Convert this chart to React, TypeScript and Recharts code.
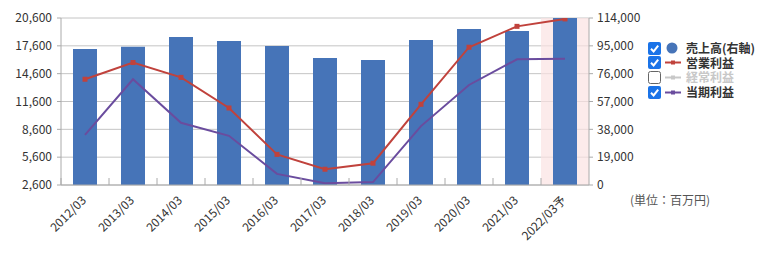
import React from "react";
import {
  ComposedChart,
  Bar,
  Line,
  XAxis,
  YAxis,
  CartesianGrid,
  ReferenceArea,
} from "recharts";

const years = [
  "2012/03", "2013/03", "2014/03", "2015/03", "2016/03", "2017/03",
  "2018/03", "2019/03", "2020/03", "2021/03", "2022/03予",
];
// 売上高 (右軸, 百万円)
const sales = [92800, 94400, 101000, 98300, 94900, 86700, 85300, 99000, 106500, 105100, 114000];
// 営業利益 (左軸)
const operatingProfit = [14000, 15800, 14200, 10900, 5900, 4300, 4950, 11300, 17450, 19700, 20500];
// 当期利益 (左軸)
const netIncome = [8000, 14000, 9300, 7900, 3800, 2780, 2920, 8950, 13380, 16150, 16200];

const leftTicks = [2600, 5600, 8600, 11600, 14600, 17600, 20600];
const rightTicks = [0, 19000, 38000, 57000, 76000, 95000, 114000];
const forecastYear = "2022/03予";

const legendItems = [
  { label: "売上高(右軸)", color: "#4674b8", kind: "circle", checked: true },
  { label: "営業利益", color: "#c0423c", kind: "line", checked: true },
  { label: "経常利益", color: "#c8c8c8", kind: "line", checked: false },
  { label: "当期利益", color: "#6a4c9e", kind: "line", checked: true },
];
const unitLabel = "(単位：百万円)";

const BLUE = "#4674b8";
const RED = "#c0423c";
const PURPLE = "#6a4c9e";
const GRID = "#c4c4c4";
const AXIS = "#aaaaaa";
const FONT = '"Noto Sans CJK JP", "Noto Sans", sans-serif';

const data = years.map((y, i) => ({
  year: y,
  sales: sales[i],
  op: operatingProfit[i],
  net: netIncome[i],
}));

const fmt = (v: number) => v.toLocaleString("en-US");

// x軸ラベル(-45°)と、カテゴリ境界の内向き目盛り
const XTick = (props: any) => {
  const { x, y, payload } = props;
  const half = payload?.offset ?? 24;
  return (
    <g>
      <line x1={x - half} x2={x - half} y1={y} y2={y - 7} stroke={AXIS} />
      <text
        x={x + 2}
        y={y + 16}
        transform={`rotate(-45, ${x + 2}, ${y + 16})`}
        textAnchor="end"
        fontSize={12}
        fill="#333"
        fontFamily={FONT}
      >
        {payload.value}
      </text>
    </g>
  );
};

const SquareDot = (props: any) => {
  const { cx, cy, index } = props;
  if (cx == null || cy == null) return <g key={index} />;
  return <rect key={index} x={cx - 2.5} y={cy - 2.5} width={5} height={5} fill={RED} />;
};

function CheckBox({ checked }: { checked: boolean }) {
  return (
    <svg width={13} height={13} style={{ display: "block" }}>
      {checked ? (
        <>
          <rect x={0} y={0} width={13} height={13} rx={2} fill="#1a73e8" />
          <path d="M3 6.8 L5.6 9.4 L10.2 3.6" stroke="#fff" strokeWidth={2} fill="none" />
        </>
      ) : (
        <rect x={0.5} y={0.5} width={12} height={12} rx={2} fill="#fff" stroke="#666" />
      )}
    </svg>
  );
}

function LegendIcon({ kind, color }: { kind: string; color: string }) {
  return (
    <svg width={18} height={13} style={{ display: "block" }}>
      {kind === "circle" ? (
        <circle cx={8} cy={6} r={5.5} fill={color} />
      ) : (
        <>
          <line x1={1} x2={17} y1={6.5} y2={6.5} stroke={color} strokeWidth={2} />
          <rect x={7} y={4.5} width={4} height={4} fill={color} />
        </>
      )}
    </svg>
  );
}

export default function App() {
  return (
    <div
      style={{
        position: "absolute",
        left: 0,
        top: 0,
        width: 763,
        height: 253,
        background: "#fff",
        fontFamily: FONT,
      }}
    >
      <ComposedChart
        width={763}
        height={253}
        data={data}
        margin={{ top: 18, right: 114, bottom: 0, left: 0 }}
      >
        <CartesianGrid yAxisId="left" stroke={GRID} vertical={false} />
        <ReferenceArea
          x1={forecastYear}
          x2={forecastYear}
          yAxisId="right"
          fill="#fbe3e3"
          fillOpacity={0.7}
          stroke="none"
        />
        <XAxis
          dataKey="year"
          height={68}
          interval={0}
          tickSize={0}
          tickMargin={0}
          tickLine={false}
          axisLine={{ stroke: AXIS }}
          tick={<XTick />}
        />
        <YAxis
          yAxisId="left"
          width={61}
          domain={[2600, 20600]}
          ticks={leftTicks}
          allowDataOverflow
          tickFormatter={fmt}
          tickSize={4}
          tickMargin={5}
          tickLine={{ stroke: AXIS }}
          axisLine={{ stroke: AXIS }}
          tick={{ fontSize: 12, fill: "#333", fontFamily: FONT }}
        />
        <YAxis
          yAxisId="right"
          orientation="right"
          width={60}
          domain={[0, 114000]}
          ticks={rightTicks}
          tickFormatter={fmt}
          tickSize={4}
          tickMargin={4}
          tickLine={{ stroke: AXIS }}
          axisLine={{ stroke: AXIS }}
          tick={{ fontSize: 12, fill: "#333", fontFamily: FONT }}
        />
        <Bar
          yAxisId="right"
          dataKey="sales"
          fill={BLUE}
          barSize={24}
          isAnimationActive={false}
        />
        <Line
          yAxisId="left"
          dataKey="op"
          type="linear"
          stroke={RED}
          strokeWidth={2}
          dot={<SquareDot />}
          activeDot={false}
          isAnimationActive={false}
        />
        <Line
          yAxisId="left"
          dataKey="net"
          type="linear"
          stroke={PURPLE}
          strokeWidth={2}
          dot={false}
          activeDot={false}
          isAnimationActive={false}
        />
      </ComposedChart>

      <div style={{ position: "absolute", left: 648, top: 41 }}>
        {legendItems.map((it) => (
          <div
            key={it.label}
            style={{ display: "flex", alignItems: "center", height: 14, marginBottom: 0.7 }}
          >
            <CheckBox checked={it.checked} />
            <div style={{ marginLeft: 3 }}>
              <LegendIcon kind={it.kind} color={it.color} />
            </div>
            <span
              style={{
                display: "inline-block",
                height: 14,
                overflow: "visible",
                marginLeft: 4,
                fontSize: 12,
                fontWeight: 700,
                color: it.checked ? "#333" : "#c8c8c8",
                lineHeight: "14px",
                whiteSpace: "nowrap",
              }}
            >
              {it.label}
            </span>
          </div>
        ))}
      </div>
      <div
        style={{
          position: "absolute",
          left: 630,
          top: 191,
          fontSize: 12,
          color: "#555",
          whiteSpace: "nowrap",
        }}
      >
        {unitLabel}
      </div>
    </div>
  );
}
